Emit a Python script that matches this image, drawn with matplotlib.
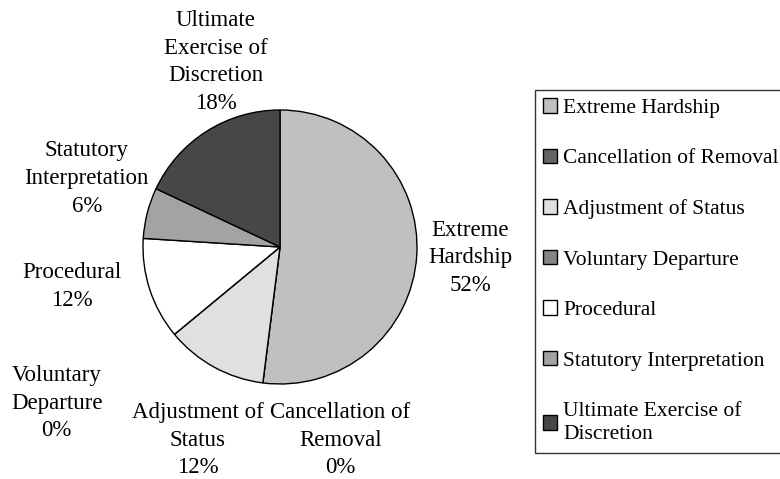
import matplotlib.pyplot as plt

# Share of decisions by issue (percent), clockwise from 12 o'clock
categories = ['Extreme Hardship', 'Cancellation of Removal', 'Adjustment of Status',
              'Voluntary Departure', 'Procedural', 'Statutory Interpretation',
              'Ultimate Exercise of Discretion']
shares = [52, 0, 12, 0, 12, 6, 18]
colors = ['#c0c0c0', '#646464', '#e0e0e0', '#858585', '#ffffff', '#a3a3a3', '#474747']

# text as it wraps on the chart and in the legend
pie_labels = ['Extreme\nHardship', 'Cancellation of\nRemoval', 'Adjustment of\nStatus',
              'Voluntary\nDeparture', 'Procedural', 'Statutory\nInterpretation',
              'Ultimate\nExercise of\nDiscretion']
legend_labels = ['Extreme Hardship', 'Cancellation of Removal', 'Adjustment of Status',
                 'Voluntary Departure', 'Procedural', 'Statutory Interpretation',
                 'Ultimate Exercise of\nDiscretion']

# label placement (in pie radii from the centre)
label_xy = [(1.39, -0.08), (0.44, -1.41), (-0.60, -1.41), (-1.63, -1.14),
            (-1.52, -0.29), (-1.41, 0.50), (-0.47, 1.35)]

plt.rcParams['font.family'] = ['Liberation Serif', 'DejaVu Serif']
FS = 16.5      # pie labels
LEG_FS = 15.5  # legend, a bit smaller so "Removal" stays on the canvas

W, H = 780, 479
cx, cy, r = 280, 247, 137  # pie centre / radius in pixels

fig = plt.figure(figsize=(W / 100, H / 100), dpi=100)
ax = fig.add_axes([0, 0, 1, 1])

wedges, _ = ax.pie(shares, colors=colors, startangle=90, counterclock=False,
                   wedgeprops=dict(edgecolor='black', linewidth=1))

ax.set_aspect('auto')
ax.set_xlim(-cx / r, (W - cx) / r)
ax.set_ylim(-(H - cy) / r, cy / r)
ax.axis('off')

for lab, val, (x, y) in zip(pie_labels, shares, label_xy):
    ax.text(x, y, f"{lab}\n{val}%", ha='center', va='center',
            fontsize=FS, linespacing=1.42)

leg = ax.legend(wedges, legend_labels, loc='upper left',
                bbox_to_anchor=(535 / W, 1 - 90 / H), bbox_transform=fig.transFigure,
                fontsize=LEG_FS, frameon=True, fancybox=False, shadow=False,
                handlelength=0.65, handleheight=0.65, handletextpad=0.28,
                labelspacing=1.43, borderpad=0.38, borderaxespad=0)
leg.get_frame().set_edgecolor('black')
leg.get_frame().set_linewidth(1)
for t in leg.get_texts():
    t.set_linespacing(1.35)

fig.savefig('out.png', dpi=100)
